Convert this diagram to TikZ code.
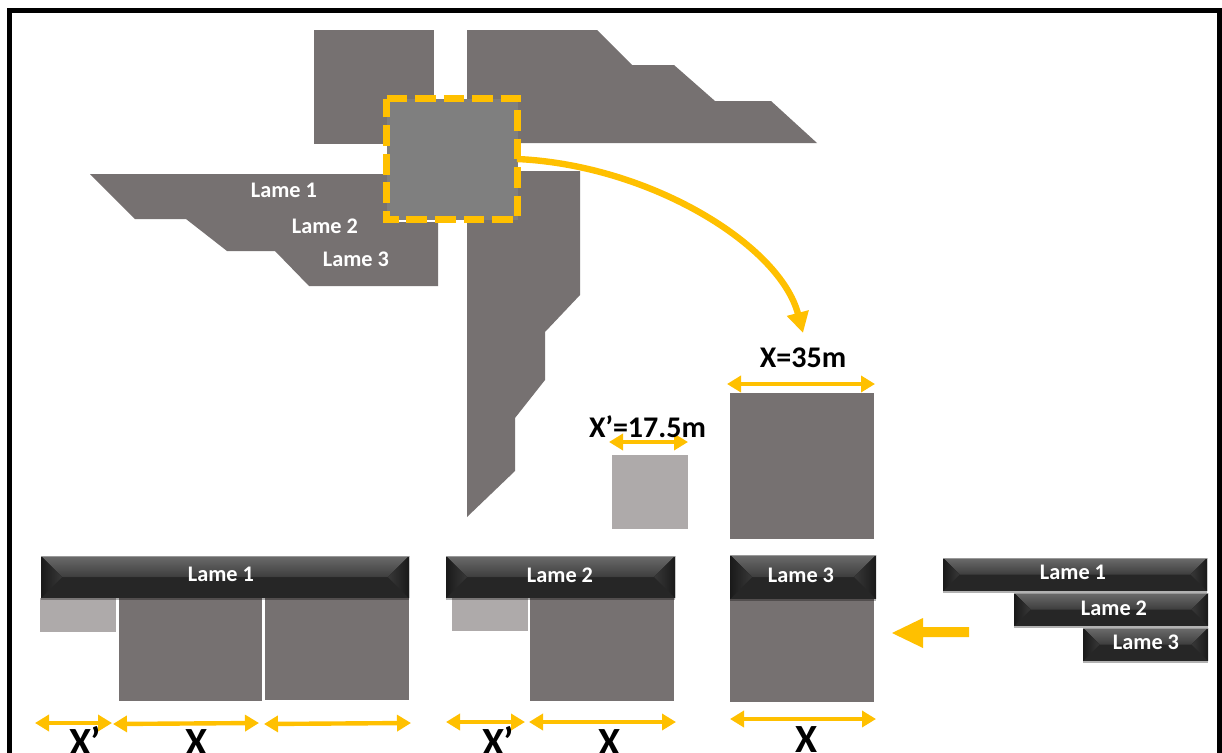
\documentclass[tikz,border=0pt]{standalone}
\usepackage{fontspec}
\setmainfont{Carlito}
\usetikzlibrary{arrows.meta,calc,shadows}
\definecolor{plate}{HTML}{767171}
\definecolor{lightplate}{HTML}{AEAAAA}
\definecolor{centre}{HTML}{7F7F7F}
\definecolor{amber}{HTML}{FFC000}
\definecolor{barbase}{HTML}{262626}
\tikzset{
  x=0.75pt,y=-0.75pt,
  block/.style={inner sep=0pt,outer sep=0pt,draw=none},
  darkplate/.style={block,fill=plate},
  paleplate/.style={block,fill=lightplate},
  polyplate/.style={fill=plate,draw=none},
  dimarrow/.style={draw=amber,line width=3.3pt,{Triangle[length=10.5pt,width=12pt]}-{Triangle[length=10.5pt,width=12pt]}},
  barlabel/.style={font=\bfseries\fontsize{16.7}{18}\selectfont,text=white,inner sep=0pt},
  dimlabel/.style={font=\bfseries\fontsize{22.5}{24}\selectfont,text=black,inner sep=0pt},
  biglabel/.style={font=\bfseries\fontsize{30}{32}\selectfont,text=black,inner sep=0pt,anchor=base},
}
% style, name, x1, y1, x2, y2, text
\newcommand{\rectnode}[7]{%
  \pgfmathsetmacro\rcx{(#3+#5)/2}\pgfmathsetmacro\rcy{(#4+#6)/2}%
  \pgfmathsetmacro\rw{(#5-#3)*0.75}\pgfmathsetmacro\rh{(#6-#4)*0.75}%
  \node[#1,minimum width=\rw pt,minimum height=\rh pt] (#2) at (\rcx,\rcy) {#7};}
% name, x1, y1, x2, y2, label name, label x, label y, text
\newcommand{\bevelbar}[9]{%
  \pgfmathsetmacro\rcx{(#2+#4)/2}\pgfmathsetmacro\rcy{(#3+#5)/2}%
  \pgfmathsetmacro\rw{(#4-#2)*0.75}\pgfmathsetmacro\rh{(#5-#3)*0.75}%
  \pgfmathsetmacro\rd{(#5-#3)*0.75*0.5}%
  \node[block,fill=barbase,minimum width=\rw pt,minimum height=\rh pt,
    drop shadow={shadow xshift=0pt,shadow yshift=-1.5pt,opacity=.3,fill=black},
    path picture={
      \coordinate (nw) at (path picture bounding box.north west);
      \coordinate (ne) at (path picture bounding box.north east);
      \coordinate (sw) at (path picture bounding box.south west);
      \coordinate (se) at (path picture bounding box.south east);
      \fill[top color=black!58,bottom color=black!76] (nw) -- (ne) -- ($(ne)+(-\rd pt,-\rd pt)$) -- ($(nw)+(\rd pt,-\rd pt)$) -- cycle;
      \fill[left color=black!90,right color=black!78] (nw) -- ($(nw)+(\rd pt,-\rd pt)$) -- (sw) -- cycle;
      \fill[right color=black!90,left color=black!78] (ne) -- ($(ne)+(-\rd pt,-\rd pt)$) -- (se) -- cycle;
      \draw[black!40,line width=.5pt] (nw) -- (ne);
    }] (#1) at (\rcx,\rcy) {};
  \node[barlabel] (#6) at (#7,#8) {#9};}
\begin{document}
\begin{tikzpicture}
\useasboundingbox (0,0) rectangle (1222,753);
\clip (0,0) rectangle (1222,753);
\fill[white] (0,0) rectangle (1222,753);
\draw[black,line width=3.9pt] (9.5,10.5) rectangle (1220,790);

% top view
\rectnode{darkplate}{plateNW}{314}{30}{434}{144}{}
\fill[polyplate] (467,30) -- (597,30) -- (632,65) -- (674,65) -- (715,101) -- (771,101) -- (817,143) -- (467,143) -- cycle;
\fill[polyplate] (90,174) -- (388,174) -- (388,222) -- (438,222) -- (438,286) -- (309,286) -- (275,251) -- (227,251) -- (186,219) -- (135,219) -- cycle;
\fill[polyplate] (467,171) -- (580,171) -- (580,295) -- (545,332) -- (545,380) -- (515,418) -- (515,471) -- (467,517) -- cycle;
\rectnode{block,fill=centre}{centre}{386.5}{98.5}{517.5}{219.5}{}
\draw[amber,line width=5pt,dash pattern=on 15.5pt off 5.9pt] (centre.north west) -- (centre.north east) -- (centre.south east) -- (centre.south west) -- cycle;
\node[barlabel] (topA) at (284,190) {Lame 1};
\node[barlabel] (topB) at (325,226) {Lame 2};
\node[barlabel] (topC) at (356,259) {Lame 3};

% curved arrow
\coordinate (curveStart) at (517,159);
\coordinate (curveEnd) at (803,333);
\draw[amber,line width=4.8pt,-{Triangle[length=15.5pt,width=16pt]}] (curveStart) .. controls (650,165) and (780,245) .. (curveEnd);

% unit plates
\rectnode{darkplate}{unitX}{730}{393}{874}{539}{}
\rectnode{paleplate}{unitXp}{612}{455}{688}{529}{}
\coordinate (a1l) at (727,384); \coordinate (a1r) at (875,384);
\draw[dimarrow] (a1l) -- (a1r);
\coordinate (a2l) at (609,442); \coordinate (a2r) at (688,442);
\draw[dimarrow] (a2l) -- (a2r);
\node[dimlabel] (lblX) at (803,358) {X=35m};
\node[dimlabel] (lblXp) at (647.5,427) {X’=17.5m};

% assemblies
\rectnode{paleplate}{p1a}{40}{598}{116}{632}{}
\rectnode{darkplate}{p1b}{119}{598}{262}{701}{}
\rectnode{darkplate}{p1c}{265}{598}{409}{700}{}
\rectnode{paleplate}{p2a}{452}{598}{528}{631}{}
\rectnode{darkplate}{p2b}{530}{598}{674}{701}{}
\rectnode{darkplate}{p3a}{730}{598}{874}{702}{}
\bevelbar{barA}{41}{556}{409}{598}{barAt}{221}{574}{Lame 1}
\bevelbar{barB}{446}{556}{675}{598}{barBt}{560}{575}{Lame 2}
\bevelbar{barC}{730}{555}{876}{599}{barCt}{801}{575}{Lame 3}
\bevelbar{keyA}{943}{558}{1207}{591}{keyAt}{1073}{572}{Lame 1}
\bevelbar{keyB}{1014}{593}{1208}{626}{keyBt}{1114}{608}{Lame 2}
\bevelbar{keyC}{1083}{628}{1208}{661}{keyCt}{1146}{642}{Lame 3}

% dimension arrows
\coordinate (d1l) at (35,723); \coordinate (d1r) at (112,723);
\coordinate (d2l) at (113,724); \coordinate (d2r) at (259,723);
\coordinate (d3l) at (264,724); \coordinate (d3r) at (411,723);
\coordinate (d4l) at (446,722); \coordinate (d4r) at (525,722);
\coordinate (d5l) at (529,722); \coordinate (d5r) at (676,722);
\coordinate (d6l) at (730,719); \coordinate (d6r) at (876,719);
\foreach \s in {1,...,6} {\draw[dimarrow] (d\s l) -- (d\s r);}
\node[biglabel] (b1) at (85,755) {X’};
\node[biglabel] (b2) at (197,755) {X};
\node[biglabel] (b3) at (498,755) {X’};
\node[biglabel] (b4) at (609.5,755) {X};
\node[biglabel] (b5) at (807,752) {X};

% block arrow
\fill[amber] (892,633) -- (923,618) -- (923,627) -- (969,627) -- (969,637) -- (923,637) -- (923,648) -- cycle;
\end{tikzpicture}
\end{document}
